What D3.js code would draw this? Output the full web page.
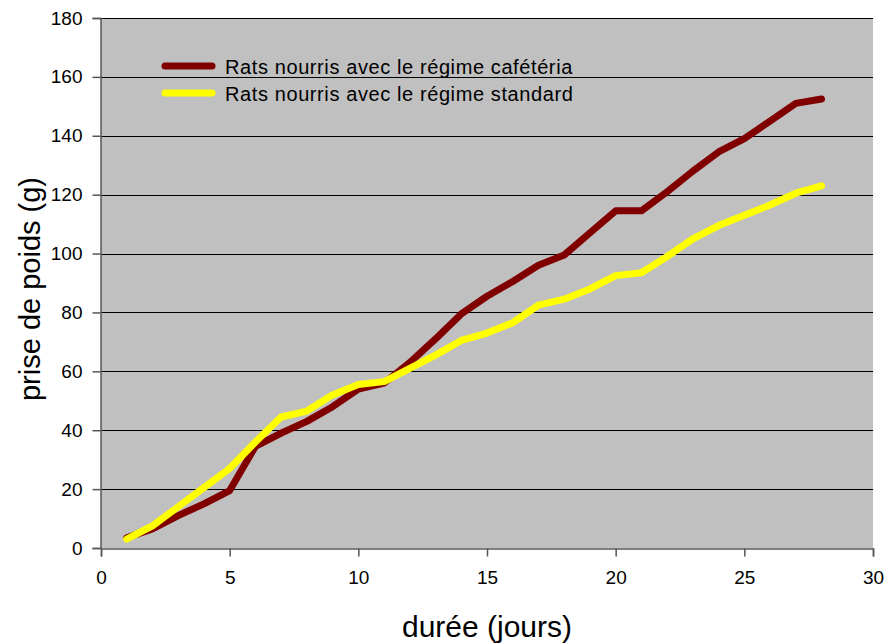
<!DOCTYPE html>
<html>
<head>
<meta charset="utf-8">
<script src="https://cdn.jsdelivr.net/npm/d3@7"></script>
<style>
  body { margin: 0; background: #fff; }
  text { font-family: "Liberation Sans", Arial, sans-serif; }
</style>
</head>
<body>
<svg id="chart" width="888" height="644"></svg>
<script>
var days = [1, 2, 3, 4, 5, 6, 7, 8, 9, 10, 11, 12, 13, 14, 15, 16, 17, 18, 19, 20, 21, 22, 23, 24, 25, 26, 27, 28];
var cafeteria = [3.5, 6.5, 11, 15, 19.5, 34.5, 39, 43, 48, 54, 56, 63, 71, 79.5, 85.5, 90.5, 96, 99.5, 107, 114.5, 114.5, 121, 128, 134.5, 139, 145, 151, 152.5];
var standard = [3, 7.5, 14, 20.5, 27, 36, 44.5, 46.5, 52, 55.5, 56.5, 61, 65.5, 70.5, 73, 76.5, 82.5, 84.5, 88, 92.5, 93.5, 99, 105, 109.5, 113, 116.5, 120.5, 123];
var seriesNames = ["Rats nourris avec le régime cafétéria", "Rats nourris avec le régime standard"];
var seriesColors = ["#800000", "#ffff00"];
var xTicks = [0, 5, 10, 15, 20, 25, 30];
var yTicks = [0, 20, 40, 60, 80, 100, 120, 140, 160, 180];

var margin = { left: 101, top: 18, right: 15, bottom: 96 };
var W = 888, H = 644;

var svg = d3.select("#chart");

var x = d3.scaleLinear().domain([0, 30]).range([margin.left, W - margin.right]);
var y = d3.scaleLinear().domain([0, 180]).range([H - margin.bottom, margin.top]);

// plot background
svg.append("rect")
    .attr("x", x(0))
    .attr("y", y(180))
    .attr("width", x(30) - x(0))
    .attr("height", y(0) - y(180))
    .style("fill", "#c0c0c0");

// gridlines
svg.selectAll(".grid")
    .data(yTicks.slice(1))
    .enter()
    .append("line")
    .attr("class", "grid")
    .attr("x1", x(0))
    .attr("x2", x(30))
    .attr("y1", d => Math.round(y(d)) + 0.5)
    .attr("y2", d => Math.round(y(d)) + 0.5)
    .style("stroke", "#000")
    .style("stroke-width", "1px");

// axes
var xAxis = svg.append("g")
    .attr("transform", "translate(0," + (Math.round(y(0)) + 0.5) + ")")
    .call(d3.axisBottom(x).tickValues(xTicks).tickSize(8).tickPadding(14).tickFormat(d3.format("d")));

var yAxis = svg.append("g")
    .attr("transform", "translate(" + (Math.round(x(0)) - 0.5) + ",0)")
    .call(d3.axisLeft(y).tickValues(yTicks).tickSize(8).tickPadding(10).tickFormat(d3.format("d")));

[xAxis, yAxis].forEach(function (a) {
    a.select(".domain").style("stroke", "#555").style("stroke-width", "1.5px");
    a.selectAll(".tick line").style("stroke", "#555").style("stroke-width", "1.5px");
    a.selectAll(".tick text")
        .style("font-family", "Liberation Sans, Arial, sans-serif")
        .style("font-size", "19px")
        .style("fill", "#000");
});

// lines
var line = d3.line()
    .x((d, i) => x(days[i]))
    .y(d => y(d));

[cafeteria, standard].forEach(function (series, k) {
    svg.append("path")
        .datum(series)
        .attr("d", line)
        .style("fill", "none")
        .style("stroke", seriesColors[k])
        .style("stroke-width", "7px")
        .style("stroke-linejoin", "round")
        .style("stroke-linecap", "round");
});

// legend
var legend = svg.selectAll(".legend")
    .data(seriesNames)
    .enter()
    .append("g")
    .attr("class", "legend")
    .attr("transform", (d, i) => "translate(165," + (66 + i * 27) + ")");

legend.append("line")
    .attr("x1", 0)
    .attr("x2", 47)
    .attr("y1", 0)
    .attr("y2", 0)
    .style("stroke", (d, i) => seriesColors[i])
    .style("stroke-width", "7px")
    .style("stroke-linecap", "round");

legend.append("text")
    .attr("x", 60)
    .attr("y", 0)
    .attr("dy", "0.4em")
    .style("font-size", "20px")
    .style("letter-spacing", "0.6px")
    .text(d => d);

// axis titles
svg.append("text")
    .attr("x", (x(0) + x(30)) / 2)
    .attr("y", 637)
    .attr("text-anchor", "middle")
    .style("font-size", "30px")
    .text("durée (jours)");

svg.append("text")
    .attr("transform", "translate(40,289) rotate(-90)")
    .attr("text-anchor", "middle")
    .style("font-size", "29px")
    .text("prise de poids (g)");
</script>
</body>
</html>
